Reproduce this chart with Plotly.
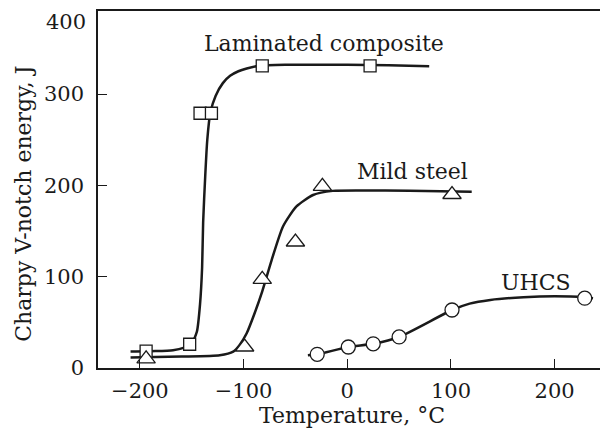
import plotly.graph_objects as go

# ---- data ----
# Laminated composite: measured points and fitted curve
lam_x = [-194, -152, -142, -131, -82, 22]
lam_y = [18.5, 26, 279, 279, 331, 331]
lam_curve_x = [-209, -185, -168, -158, -150, -145, -142, -140, -139, -137, -135, -132, -127, -120, -113, -105, -97, -85, -60, 0, 40, 79]
lam_curve_y = [18, 18.5, 19.5, 22, 27, 40, 70, 110, 160, 210, 250, 280, 298, 312, 320, 325, 328, 331, 332, 332, 331.5, 330.5]

# Mild steel
mild_x = [-194, -99, -82, -50, -24, 101]
mild_y = [10, 23, 97, 138, 199, 190]
mild_curve_x = [-209, -160, -123, -110, -104, -97, -90, -82, -73, -62, -49, -33, -14, 12, 60, 120]
mild_curve_y = [11.5, 12.5, 14, 18, 25, 38, 58, 84, 118, 155, 177, 189.5, 194, 194.5, 194, 193]

# UHCS
uhcs_x = [-29, 1, 25, 50, 101, 229]
uhcs_y = [15, 23, 26.5, 34, 63.5, 76.5]
uhcs_curve_x = [-38, -29, 1, 25, 50, 101, 118, 138, 170, 200, 229, 237]
uhcs_curve_y = [14, 15, 23, 26.5, 34, 63.5, 70.5, 74.5, 77.5, 78.5, 77.5, 76.5]

x_ticks = [-200, -100, 0, 100, 200]
y_ticks = [0, 100, 200, 300]

FONT = "DejaVu Serif"
INK = "#1a1a1a"

fig = go.Figure()

line_style = dict(color=INK, width=2.5, shape="spline", smoothing=0.6)
for cx, cy in [(lam_curve_x, lam_curve_y), (mild_curve_x, mild_curve_y), (uhcs_curve_x, uhcs_curve_y)]:
    fig.add_trace(go.Scatter(x=cx, y=cy, mode="lines", line=line_style,
                             hoverinfo="skip", showlegend=False))

mk_line = dict(color=INK, width=1.3)
fig.add_trace(go.Scatter(x=lam_x, y=lam_y, mode="markers", name="Laminated composite",
                         marker=dict(symbol="square", size=12, color="white", line=mk_line),
                         showlegend=False))
fig.add_trace(go.Scatter(x=mild_x, y=mild_y, mode="markers", name="Mild steel",
                         marker=dict(symbol="triangle-up", size=16, color="white", line=mk_line),
                         showlegend=False))
fig.add_trace(go.Scatter(x=uhcs_x, y=uhcs_y, mode="markers", name="UHCS",
                         marker=dict(symbol="circle", size=14, color="white", line=mk_line),
                         showlegend=False))

annots = [
    dict(x=-22, y=355, text="Laminated composite", xanchor="center", yanchor="middle"),
    dict(x=63, y=215, text="Mild steel", xanchor="center", yanchor="middle"),
    dict(x=182, y=94, text="UHCS", xanchor="center", yanchor="middle"),
]
for a in annots:
    fig.add_annotation(showarrow=False, font=dict(family=FONT, size=22, color=INK), **a)
fig.add_annotation(x=0, xref="paper", y=379, text="400", xanchor="right", yanchor="middle",
                   xshift=-10, showarrow=False, font=dict(family=FONT, size=21, color=INK))
# y-axis title, placed slightly below the plot centre as in the reference
fig.add_annotation(x=0, xref="paper", y=0.46, yref="paper", text="Charpy V-notch energy, J",
                   textangle=-90, xanchor="center", yanchor="middle", xshift=-74,
                   showarrow=False, font=dict(family=FONT, size=22, color=INK))

# the page body adds an 8 px offset, so the figure is sized to fit after it
fig.update_layout(
    width=600, height=423,
    margin=dict(l=90, r=2, t=3, b=63),
    paper_bgcolor="white", plot_bgcolor="white",
    font=dict(family=FONT, size=21, color=INK),
)
fig.update_xaxes(
    range=[-240.4, 249.5], tickvals=x_ticks, ticks="inside", ticklen=9, tickwidth=1.3,
    tickcolor=INK, showline=True, linecolor=INK, linewidth=1.5, mirror=True,
    showgrid=False, zeroline=False, ticklabelstandoff=3,
    tickfont=dict(family=FONT, size=21),
    title=dict(text="Temperature, °C", standoff=5, font=dict(family=FONT, size=22)),
)
fig.update_yaxes(
    range=[0, 391], tickvals=y_ticks, ticks="inside", ticklen=9, tickwidth=1.3,
    tickcolor=INK, showline=True, linecolor=INK, linewidth=1.5, mirror=False,
    showgrid=False, zeroline=False, ticklabelstandoff=8,
    tickfont=dict(family=FONT, size=21),
)

fig.write_html("out.html")
